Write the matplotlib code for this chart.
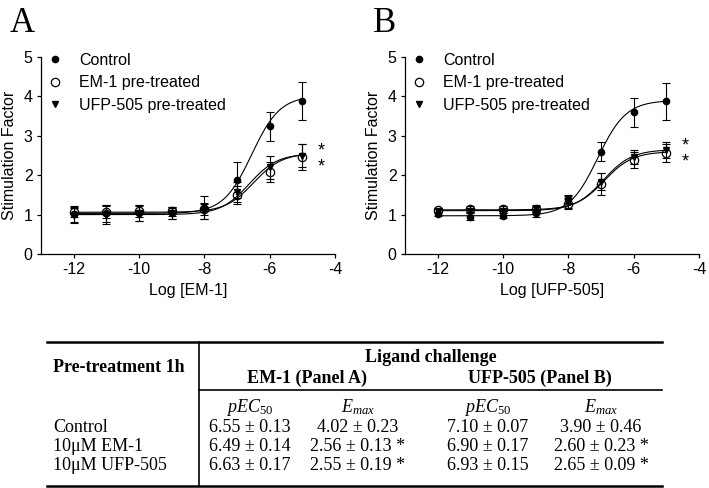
import matplotlib
matplotlib.use('Agg')
import matplotlib.pyplot as plt
from matplotlib.lines import Line2D
import numpy as np

plt.rcParams['font.family'] = 'Liberation Sans'
plt.rcParams['axes.unicode_minus'] = False
plt.rcParams['mathtext.fontset'] = 'custom'
plt.rcParams['mathtext.rm'] = 'Liberation Serif'
plt.rcParams['mathtext.it'] = 'Liberation Serif:italic'

# log concentrations
log_conc = [-12, -11, -10, -9, -8, -7, -6, -5]
series_labels = ['Control', 'EM-1 pre-treated', 'UFP-505 pre-treated']

# panel A (EM-1 challenge)
a_control = [1.02, 1.03, 1.05, 1.04, 1.18, 1.88, 3.24, 3.88]
a_control_err = [0.20, 0.22, 0.20, 0.15, 0.30, 0.45, 0.36, 0.48]
a_em1 = [1.06, 1.07, 1.10, 1.08, 1.13, 1.50, 2.09, 2.46]
a_em1_err = [0.12, 0.15, 0.15, 0.12, 0.15, 0.22, 0.25, 0.33]
a_ufp = [0.99, 1.00, 1.03, 1.03, 1.10, 1.58, 2.20, 2.50]
a_ufp_err = [0.20, 0.25, 0.20, 0.15, 0.20, 0.25, 0.30, 0.30]
a_bottom = [1.03, 1.06, 1.00]

# panel B (UFP-505 challenge)
b_control = [1.02, 0.95, 0.97, 1.03, 1.39, 2.60, 3.60, 3.88]
b_control_err = [0.05, 0.08, 0.06, 0.08, 0.10, 0.25, 0.37, 0.47]
b_em1 = [1.12, 1.14, 1.15, 1.14, 1.27, 1.78, 2.38, 2.56]
b_em1_err = [0.05, 0.08, 0.06, 0.08, 0.14, 0.28, 0.20, 0.22]
b_ufp = [1.10, 1.10, 1.10, 1.14, 1.33, 1.84, 2.46, 2.63]
b_ufp_err = [0.05, 0.06, 0.05, 0.10, 0.15, 0.22, 0.17, 0.20]
b_bottom = [0.97, 1.12, 1.10]

# table values
row_labels = ['Control', '10μM EM-1', '10μM UFP-505']
pec50_a = [6.55, 6.49, 6.63]
pec50_a_err = [0.13, 0.14, 0.17]
emax_a = [4.02, 2.56, 2.55]
emax_a_err = [0.23, 0.13, 0.19]
pec50_b = [7.10, 6.90, 6.93]
pec50_b_err = [0.07, 0.17, 0.15]
emax_b = [3.90, 2.60, 2.65]
emax_b_err = [0.46, 0.23, 0.09]
significant = [False, True, True]

fig = plt.figure(figsize=(7.09, 4.88), dpi=100)

markers = [dict(marker='o', ms=4.5, mfc='black', mec='black'),
           dict(marker='o', ms=6.0, mfc='none', mec='black', mew=0.9),
           dict(marker='v', ms=5.0, mfc='black', mec='black')]


def panel(ax, ys, errs, bottoms, pec50, emax, xlabel):
    xs = np.linspace(-12, -5, 300)
    for i in range(3):
        # fitted sigmoid, hill slope 1
        fit = bottoms[i] + (emax[i] - bottoms[i]) / (1 + 10 ** (-pec50[i] - xs))
        ax.plot(xs, fit, color='black', lw=0.8, zorder=2)
    for i in range(3):
        ax.errorbar(log_conc, ys[i], yerr=errs[i], fmt='none', ecolor='black',
                    elinewidth=0.8, capsize=3, capthick=0.8, zorder=3)
        ax.plot(log_conc, ys[i], ls='none', zorder=4 + i, **markers[i])
    ax.set_xlim(-13, -4)
    ax.set_ylim(0, 5)
    ax.set_xticks([-12, -10, -8, -6, -4])
    ax.set_yticks([0, 1, 2, 3, 4, 5])
    for s in ['top', 'right']:
        ax.spines[s].set_visible(False)
    for s in ['left', 'bottom']:
        ax.spines[s].set_linewidth(0.9)
    ax.tick_params(direction='out', length=3, width=0.9, labelsize=11.5, pad=3)
    ax.set_xlabel(xlabel, fontsize=11.5)
    ax.set_ylabel('Stimulation Factor', fontsize=11.5)
    ax.yaxis.set_label_coords(-0.08, 0.5)
    handles = [Line2D([], [], ls='none', **m) for m in markers]
    ax.legend(handles, series_labels, loc='upper left', bbox_to_anchor=(0.0, 1.055),
              frameon=False, fontsize=11.5, handlelength=1.0, handletextpad=1.0,
              labelspacing=0.48, borderaxespad=0)


ax_a = fig.add_axes([41 / 709, 234 / 488, 294 / 709, 197 / 488])
panel(ax_a, [a_control, a_em1, a_ufp], [a_control_err, a_em1_err, a_ufp_err],
      a_bottom, pec50_a, emax_a, 'Log [EM-1]')
ax_a.text(-4.41, 2.62, '*', fontsize=13, ha='center', va='center')
ax_a.text(-4.41, 2.22, '*', fontsize=13, ha='center', va='center')

ax_b = fig.add_axes([405 / 709, 234 / 488, 294 / 709, 197 / 488])
panel(ax_b, [b_control, b_em1, b_ufp], [b_control_err, b_em1_err, b_ufp_err],
      b_bottom, pec50_b, emax_b, 'Log [UFP-505]')
ax_b.text(-4.41, 2.73, '*', fontsize=13, ha='center', va='center')
ax_b.text(-4.41, 2.34, '*', fontsize=13, ha='center', va='center')

fig.text(10 / 709, 1 - 32 / 488, 'A', family='Liberation Serif', fontsize=25, ha='left', va='baseline')
fig.text(373 / 709, 1 - 32 / 488, 'B', family='Liberation Serif', fontsize=25, ha='left', va='baseline')

# table drawn in pixel space
tab = fig.add_axes([0, 0, 1, 1])
tab.set_xlim(0, 709)
tab.set_ylim(488, 0)
tab.axis('off')
tab.plot([47, 662], [342, 342], color='black', lw=1.8)
tab.plot([199, 662], [390, 390], color='black', lw=1.2)
tab.plot([47, 662], [486, 486], color='black', lw=1.8)
tab.plot([199, 199], [342, 486], color='black', lw=1.2)

serif = dict(family='Liberation Serif', fontsize=13, va='center')
tab.text(53, 368, 'Pre-treatment 1h', ha='left', weight='bold', **serif)
tab.text(431, 358, 'Ligand challenge', ha='center', weight='bold', **serif)
tab.text(307, 378, 'EM-1 (Panel A)', ha='center', weight='bold', **serif)
tab.text(540, 378, 'UFP-505 (Panel B)', ha='center', weight='bold', **serif)

col_x = [250, 358, 488, 601]
for cx, head in zip(col_x, [r'$pEC_{\mathit{50}}$', r'$E_{max}$', r'$pEC_{\mathit{50}}$', r'$E_{max}$']):
    tab.text(cx, 407, head, ha='center', **serif)

row_y = [427, 446.5, 466]
columns = [(pec50_a, pec50_a_err, False), (emax_a, emax_a_err, True),
           (pec50_b, pec50_b_err, False), (emax_b, emax_b_err, True)]
for r, ry in enumerate(row_y):
    tab.text(53, ry, row_labels[r], ha='left', **serif)
    for cx, (vals, errs, mark) in zip(col_x, columns):
        s = f'{vals[r]:.2f} ± {errs[r]:.2f}'
        if mark and significant[r]:
            s += ' *'
        tab.text(cx, ry, s, ha='center', **serif)

fig.savefig('out.png', dpi=100)
